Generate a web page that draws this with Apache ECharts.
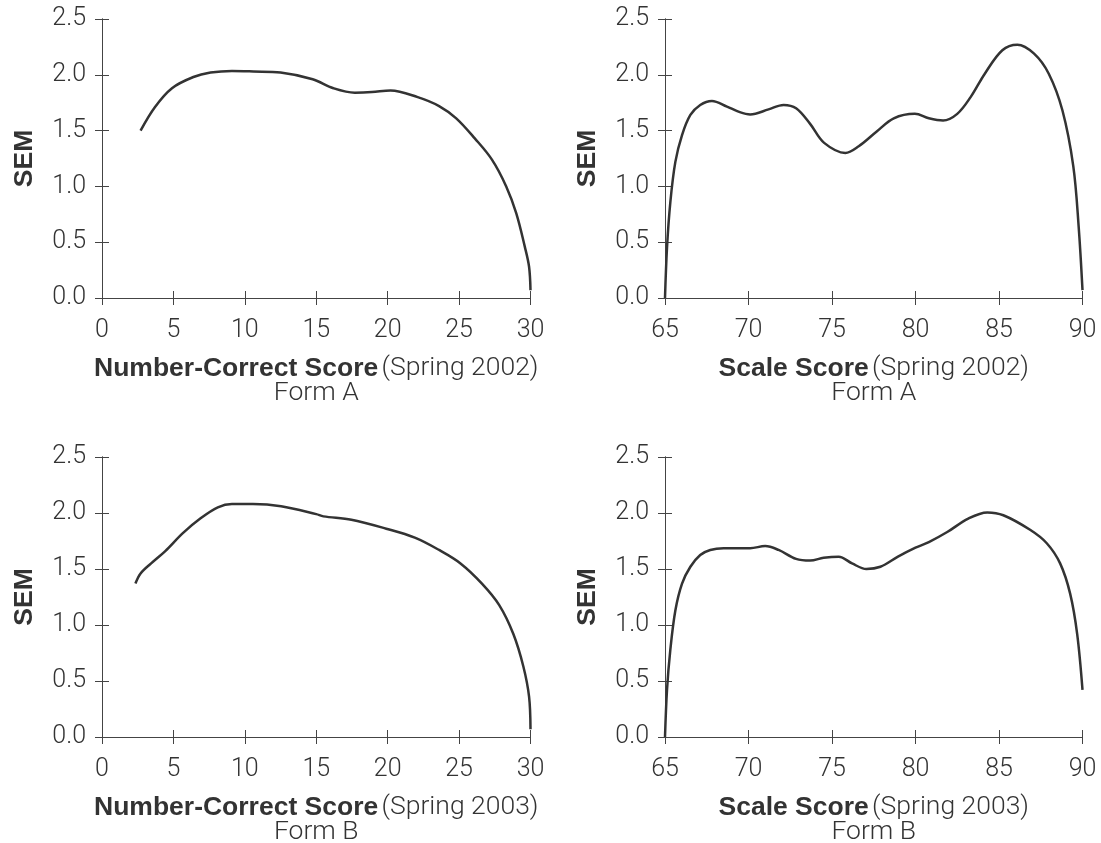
<!DOCTYPE html>
<html>
<head>
<meta charset="utf-8">
<script src="https://cdn.jsdelivr.net/npm/echarts@6/dist/echarts.min.js"></script>
<style>
html,body{margin:0;padding:0;background:#fff;}
#chart{width:1101px;height:843px;}
</style>
</head>
<body>
<div id="chart"></div>
<script>
// ---- Data ----
// Number-Correct Score, Spring 2002, Form A
const ncA_x = [2.7, 3.7, 4.9, 6.4, 7.6, 9.1, 10.6, 12.5, 14.75, 16.2, 17.7, 18.9, 20.2, 22.1, 23.6, 24.8, 26.1, 27.3, 28.3, 29.0, 29.6, 29.9, 30.0];
const ncA_y = [1.50, 1.71, 1.88, 1.98, 2.02, 2.035, 2.03, 2.02, 1.96, 1.88, 1.84, 1.845, 1.86, 1.80, 1.72, 1.61, 1.43, 1.24, 1.00, 0.76, 0.46, 0.28, 0.07];
// Scale Score, Spring 2002, Form A
const ssA_x = [65, 65.12, 65.32, 65.62, 66.02, 66.52, 67.11, 67.81, 68.71, 69.48, 70.1, 71.2, 72.1, 72.85, 73.69, 74.53, 75.8, 76.6, 77.66, 78.7, 79.96, 80.8, 81.65, 82.5, 83.3, 84.15, 85.2, 86.1, 87.1, 87.98, 88.8, 89.45, 89.77, 90];
const ssA_y = [0, 0.45, 0.86, 1.22, 1.46, 1.64, 1.73, 1.766, 1.715, 1.665, 1.645, 1.69, 1.73, 1.70, 1.56, 1.39, 1.30, 1.36, 1.49, 1.61, 1.65, 1.61, 1.59, 1.65, 1.80, 2.01, 2.22, 2.27, 2.19, 2.01, 1.68, 1.18, 0.64, 0.07];
// Number-Correct Score, Spring 2003, Form B
const ncB_x = [2.34, 2.7, 3.44, 4.43, 5.66, 6.88, 8.11, 9.1, 10.57, 12.54, 15.0, 15.5, 17.46, 19.9, 21.9, 23.6, 25.1, 26.6, 27.8, 28.8, 29.5, 29.9, 30.0];
const ncB_y = [1.37, 1.46, 1.55, 1.66, 1.82, 1.95, 2.05, 2.08, 2.08, 2.06, 1.99, 1.97, 1.94, 1.86, 1.78, 1.67, 1.55, 1.37, 1.18, 0.92, 0.63, 0.36, 0.07];
// Scale Score, Spring 2003, Form B
const ssB_x = [65, 65.12, 65.32, 65.62, 66.02, 66.52, 67.11, 67.71, 68.51, 70.1, 71.0, 71.8, 72.85, 73.69, 74.5, 75.4, 76.2, 77.06, 77.9, 78.95, 80.0, 80.8, 81.9, 83.16, 84.3, 85.26, 86.86, 87.86, 88.66, 89.26, 89.68, 90];
const ssB_y = [0, 0.42, 0.78, 1.13, 1.37, 1.52, 1.625, 1.67, 1.685, 1.685, 1.705, 1.67, 1.59, 1.575, 1.60, 1.61, 1.55, 1.50, 1.52, 1.61, 1.69, 1.74, 1.83, 1.95, 2.005, 1.98, 1.85, 1.73, 1.55, 1.28, 0.92, 0.42];

const yTicks = [0, 0.5, 1.0, 1.5, 2.0, 2.5];
const ncTicks = [0, 5, 10, 15, 20, 25, 30];
const ssTicks = [65, 70, 75, 80, 85, 90];

const panels = [
  {x: ncA_x, y: ncA_y, ticks: ncTicks, bold: 'Number-Correct Score', season: '(Spring 2002)', form: 'Form A'},
  {x: ssA_x, y: ssA_y, ticks: ssTicks, bold: 'Scale Score', season: '(Spring 2002)', form: 'Form A'},
  {x: ncB_x, y: ncB_y, ticks: ncTicks, bold: 'Number-Correct Score', season: '(Spring 2003)', form: 'Form B'},
  {x: ssB_x, y: ssB_y, ticks: ssTicks, bold: 'Scale Score', season: '(Spring 2003)', form: 'Form B'}
];

// ---- Layout / style ----
const boxes = [
  {left: 102, top: 19, width: 428.5, height: 279},
  {left: 665, top: 19, width: 417.5, height: 279},
  {left: 102, top: 457, width: 428.5, height: 280},
  {left: 665, top: 457, width: 417.5, height: 280}
];
const LIGHT = 'Roboto';
const BOLD = '"Liberation Sans", Arial, sans-serif';
const TXT = '#333';
const LINE = '#444';
const FS = 25;
const TFS = 26.5;

const grids = [], xAxes = [], yAxes = [], series = [];
const yMin = yTicks[0], yMax = yTicks[yTicks.length - 1], yStep = yTicks[1] - yTicks[0];
// main grids (0..3) and overlay grids (4..7) for the inner half of the crossing ticks
boxes.forEach(b => grids.push(Object.assign({outerBoundsMode: 'none', containLabel: false}, b)));
boxes.forEach(b => grids.push(Object.assign({outerBoundsMode: 'none', containLabel: false}, b)));

panels.forEach((p, i) => {
  const xmin = p.ticks[0], xmax = p.ticks[p.ticks.length - 1];
  const step = p.ticks[1] - p.ticks[0];
  xAxes.push({
    type: 'value', gridIndex: i, position: 'bottom', min: xmin, max: xmax, interval: step,
    splitLine: {show: false},
    axisLine: {show: true, onZero: false, lineStyle: {color: LINE, width: 1}},
    axisTick: {show: true, inside: false, length: 7, lineStyle: {color: LINE, width: 1}},
    axisLabel: {color: TXT, fontFamily: LIGHT, fontWeight: 300, fontSize: FS, margin: 20},
    name: '{b|' + p.bold + '} {r|' + p.season + '}\n{r|' + p.form + '}',
    nameLocation: 'middle', nameGap: 58,
    nameTextStyle: {
      align: 'center', lineHeight: 25,
      rich: {
        b: {fontFamily: BOLD, fontWeight: 'bold', fontSize: TFS, color: TXT, lineHeight: 25},
        r: {fontFamily: LIGHT, fontWeight: 300, fontSize: TFS, color: TXT, lineHeight: 25}
      }
    }
  });
  yAxes.push({
    type: 'value', gridIndex: i, position: 'left', min: yMin, max: yMax, interval: yStep,
    splitLine: {show: false},
    axisLine: {show: true, onZero: false, lineStyle: {color: LINE, width: 1}},
    axisTick: {show: true, inside: false, length: 7, lineStyle: {color: LINE, width: 1}},
    axisLabel: {color: TXT, fontFamily: LIGHT, fontWeight: 300, fontSize: FS, margin: 16,
      formatter: v => v.toFixed(1)},
    name: 'SEM', nameLocation: 'middle', nameRotate: 90, nameGap: 64,
    nameTextStyle: {fontFamily: BOLD, fontWeight: 'bold', fontSize: TFS, color: TXT}
  });
  series.push({
    type: 'line', xAxisIndex: i, yAxisIndex: i,
    data: p.x.map((v, k) => [v, p.y[k]]),
    smooth: 0.35, showSymbol: false, symbol: 'none',
    lineStyle: {color: '#333', width: 2.5},
    clip: false, silent: true, z: 5
  });
});
panels.forEach((p, i) => {
  const xmin = p.ticks[0], xmax = p.ticks[p.ticks.length - 1];
  const step = p.ticks[1] - p.ticks[0];
  xAxes.push({
    type: 'value', gridIndex: 4 + i, position: 'bottom', min: xmin, max: xmax, interval: step,
    splitLine: {show: false},
    axisLine: {show: true, onZero: false, lineStyle: {color: LINE, width: 1}},
    axisLabel: {show: false},
    axisTick: {show: true, inside: true, length: 7, lineStyle: {color: LINE, width: 1}}
  });
  yAxes.push({
    type: 'value', gridIndex: 4 + i, position: 'left', min: yMin, max: yMax, interval: yStep,
    splitLine: {show: false},
    axisLine: {show: true, onZero: false, lineStyle: {color: LINE, width: 1}},
    axisLabel: {show: false},
    axisTick: {show: true, inside: true, length: 7, lineStyle: {color: LINE, width: 1}}
  });
  // an empty series keeps the overlay grid's axes active
  series.push({type: 'line', xAxisIndex: 4 + i, yAxisIndex: 4 + i, data: [], silent: true, showSymbol: false});
});

const chart = echarts.init(document.getElementById('chart'), null, {renderer: 'canvas'});
chart.setOption({
  animation: false,
  backgroundColor: '#fff',
  grid: grids,
  xAxis: xAxes,
  yAxis: yAxes,
  series: series
});
</script>
</body>
</html>
